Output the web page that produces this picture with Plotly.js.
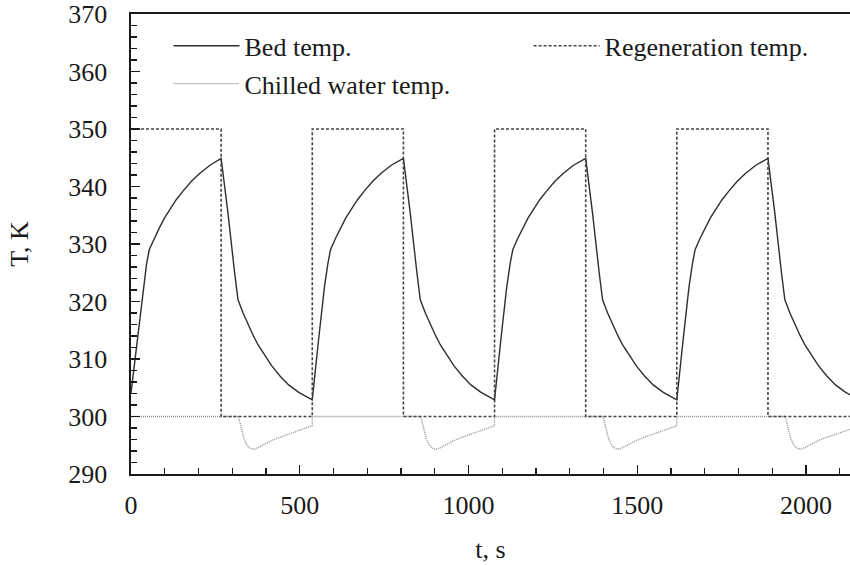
<!DOCTYPE html>
<html>
<head>
<meta charset="utf-8">
<script src="https://cdn.plot.ly/plotly-3.0.1.min.js"></script>
<style>html,body{margin:0;padding:0;background:#fff;}#chart{width:850px;height:565px;}</style>
</head>
<body>
<div id="chart"></div>
<script>
// Bed temperature, K
const bedTime = [
  0, 18, 36, 46, 54, 69, 84, 99, 114, 134, 154, 179, 204, 234, 267,
  287, 307, 317, 332, 347, 362, 377, 397, 417, 442, 467, 497, 537,
  555, 573, 583, 591, 606, 621, 636, 651, 671, 691, 716, 741, 771, 807,
  827, 847, 857, 872, 887, 902, 917, 937, 957, 982, 1007, 1037, 1077,
  1095, 1113, 1123, 1131, 1146, 1161, 1176, 1191, 1211, 1231, 1256, 1281, 1311, 1347,
  1367, 1387, 1397, 1412, 1427, 1442, 1457, 1477, 1497, 1522, 1547, 1577, 1617,
  1635, 1653, 1663, 1671, 1686, 1701, 1716, 1731, 1751, 1771, 1796, 1821, 1851, 1887,
  1907, 1927, 1937, 1952, 1967, 1982, 1997, 2017, 2037, 2062, 2087, 2117, 2157
];
const bedTemp = [
  304.1, 313.0, 322.5, 326.5, 329.0, 331.0, 332.8, 334.5, 335.9, 337.7, 339.2, 340.9, 342.3, 343.7, 344.9,
  335.5, 325.0, 320.3, 318.0, 316.0, 314.1, 312.4, 310.5, 308.8, 307.0, 305.5, 304.2, 302.9,
  313.0, 322.5, 326.5, 329.0, 331.0, 332.8, 334.5, 335.9, 337.7, 339.2, 340.9, 342.3, 343.7, 344.9,
  335.5, 325.0, 320.3, 318.0, 316.0, 314.1, 312.4, 310.5, 308.8, 307.0, 305.5, 304.2, 302.9,
  313.0, 322.5, 326.5, 329.0, 331.0, 332.8, 334.5, 335.9, 337.7, 339.2, 340.9, 342.3, 343.7, 344.9,
  335.5, 325.0, 320.3, 318.0, 316.0, 314.1, 312.4, 310.5, 308.8, 307.0, 305.5, 304.2, 302.9,
  313.0, 322.5, 326.5, 329.0, 331.0, 332.8, 334.5, 335.9, 337.7, 339.2, 340.9, 342.3, 343.7, 344.9,
  335.5, 325.0, 320.3, 318.0, 316.0, 314.1, 312.4, 310.5, 308.8, 307.0, 305.5, 304.2, 302.9
];

// Regeneration (hot water) temperature, K
const regenTime = [0, 267, 267, 537, 537, 807, 807, 1077, 1077, 1347, 1347, 1617, 1617, 1887, 1887, 2160];
const regenTemp = [350, 350, 300, 300, 350, 350, 300, 300, 350, 350, 300, 300, 350, 350, 300, 300];

// Chilled water temperature, K
const chillTime = [
  0, 317, 320, 324, 329, 335, 342, 350, 359, 367, 377, 392, 412, 437, 467, 497, 522, 537, 537,
  857, 860, 864, 869, 875, 882, 890, 899, 907, 917, 932, 952, 977, 1007, 1037, 1062, 1077, 1077,
  1397, 1400, 1404, 1409, 1415, 1422, 1430, 1439, 1447, 1457, 1472, 1492, 1517, 1547, 1577, 1602, 1617, 1617,
  1937, 1940, 1944, 1949, 1955, 1962, 1970, 1979, 1987, 1997, 2012, 2032, 2057, 2087, 2117, 2142
];
const chillTemp = [
  300, 300, 299.6, 298.6, 297.3, 296.1, 295.2, 294.6, 294.35, 294.35, 294.6, 295.1, 295.7, 296.3, 296.9, 297.6, 298.0, 298.4, 300,
  300, 299.6, 298.6, 297.3, 296.1, 295.2, 294.6, 294.35, 294.35, 294.6, 295.1, 295.7, 296.3, 296.9, 297.6, 298.0, 298.4, 300,
  300, 299.6, 298.6, 297.3, 296.1, 295.2, 294.6, 294.35, 294.35, 294.6, 295.1, 295.7, 296.3, 296.9, 297.6, 298.0, 298.4, 300,
  300, 299.6, 298.6, 297.3, 296.1, 295.2, 294.6, 294.35, 294.35, 294.6, 295.1, 295.7, 296.3, 296.9, 297.6, 298.0
];

const seriesNames = ["Bed temp.", "Regeneration temp.", "Chilled water temp."];

const FONT = "Liberation Serif, Times New Roman, serif";
const FS = 26;
const INK = "#1a1a1a";

const traces = [
  {x: bedTime, y: bedTemp, name: seriesNames[0], mode: "lines",
   line: {color: "#2e2e2e", width: 1.4}, legend: "legend"},
  {x: chillTime, y: chillTemp, name: seriesNames[2], mode: "lines",
   line: {color: "#8c8c8c", width: 1.3, dash: "1px,1px"}, legend: "legend3"},
  {x: regenTime, y: regenTemp, name: seriesNames[1], mode: "lines",
   line: {color: "#454545", width: 1.6, dash: "3px,2px"}, legend: "legend2"}
];

const legFont = {family: FONT, size: FS, color: INK};
const IW = 66;
const layout = {
  width: 850, height: 565,
  margin: {l: 131, r: 0, t: 14, b: 91},
  paper_bgcolor: "#ffffff", plot_bgcolor: "#ffffff",
  font: {family: FONT, size: FS, color: INK},
  showlegend: true,
  legend: {x: 0.0522, y: 0.982, xanchor: "left", yanchor: "top", bgcolor: "rgba(0,0,0,0)", font: legFont, itemwidth: IW},
  legend3: {x: 0.0522, y: 0.8995, xanchor: "left", yanchor: "top", bgcolor: "rgba(0,0,0,0)", font: legFont, itemwidth: IW},
  legend2: {x: 0.553, y: 0.982, xanchor: "left", yanchor: "top", bgcolor: "rgba(0,0,0,0)", font: legFont, itemwidth: IW},
  xaxis: {
    range: [0, 2130], dtick: 500, tick0: 0,
    showgrid: false, zeroline: false,
    showline: true, linecolor: INK, linewidth: 1.6, mirror: true,
    ticks: "inside", ticklen: 9, tickwidth: 1.3, tickcolor: INK,
    minor: {dtick: 100, ticks: "inside", ticklen: 6, tickwidth: 1.2, tickcolor: INK, showgrid: false},
    tickfont: {family: FONT, size: FS, color: INK},
    ticklabelstandoff: 7,
    title: {text: "t, s", font: {family: FONT, size: FS, color: INK}, standoff: 21}
  },
  yaxis: {
    range: [290, 370], dtick: 10, tick0: 290,
    showgrid: false, zeroline: false,
    showline: true, linecolor: INK, linewidth: 1.6, mirror: false,
    ticks: "inside", ticklen: 9, tickwidth: 1.3, tickcolor: INK,
    minor: {dtick: 2, ticks: "inside", ticklen: 6, tickwidth: 1.2, tickcolor: INK, showgrid: false},
    tickfont: {family: FONT, size: FS, color: INK},
    ticklabelstandoff: 17,
    title: {text: "T, K", font: {family: FONT, size: FS, color: INK}, standoff: 32}
  }
};

Plotly.newPlot("chart", traces, layout, {staticPlot: true, displayModeBar: false});
</script>
</body>
</html>
